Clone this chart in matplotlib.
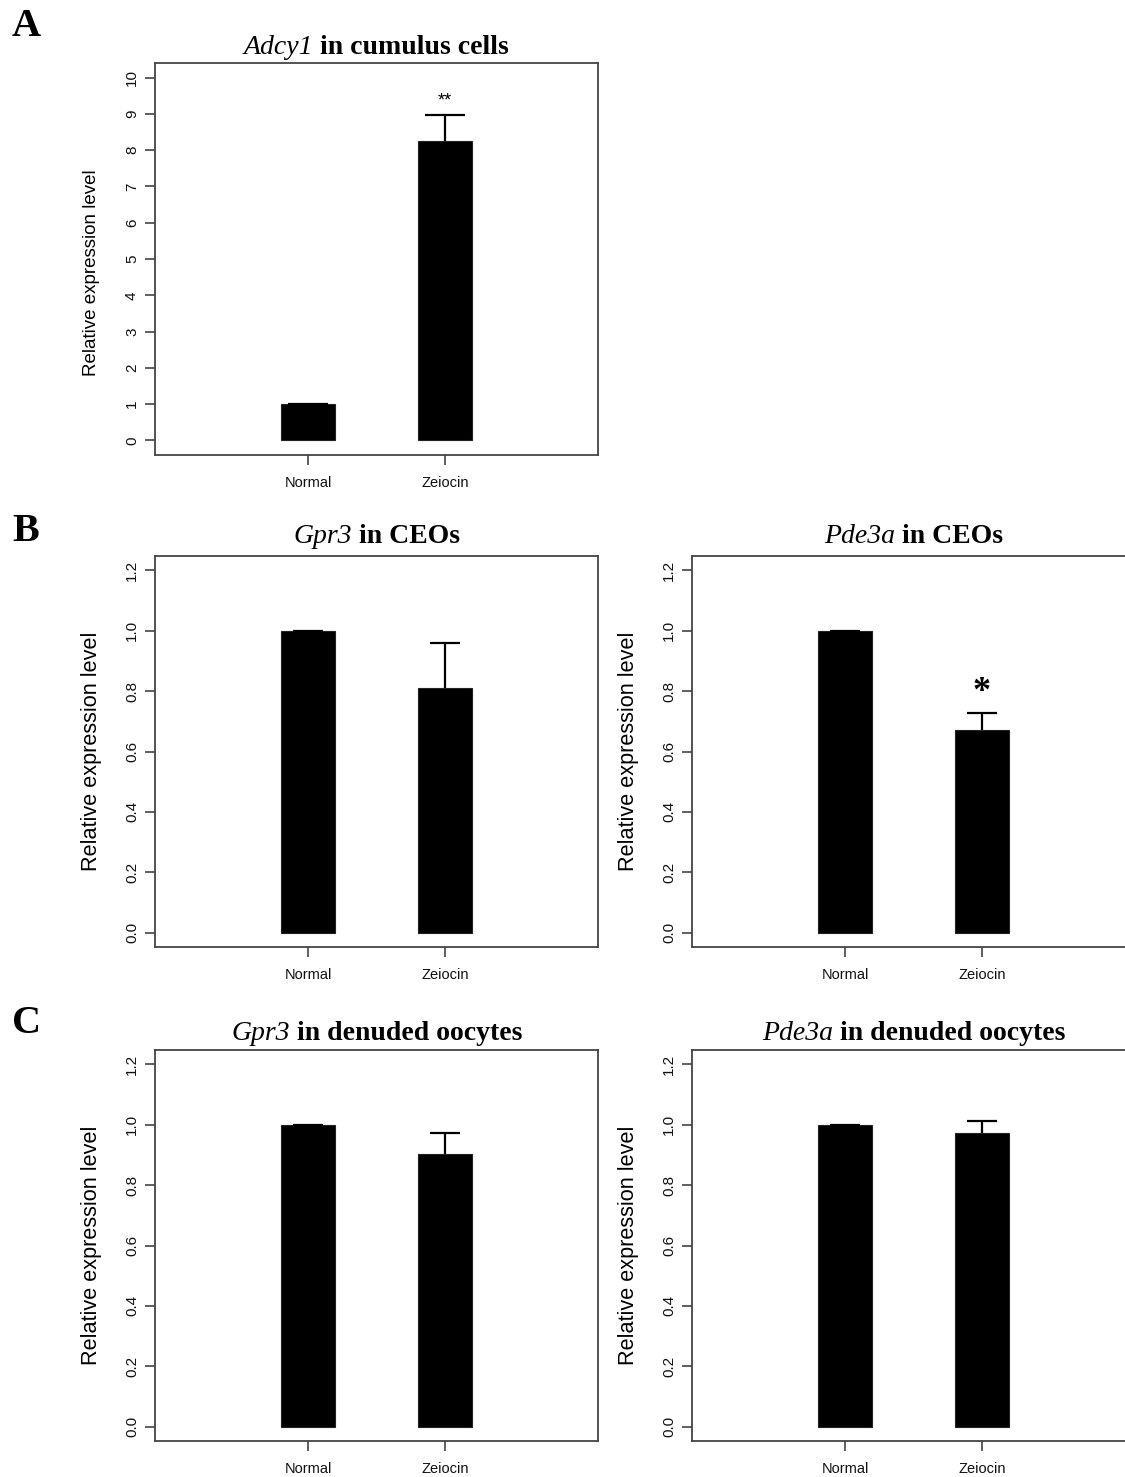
import numpy as np
import matplotlib
matplotlib.use("Agg")
import matplotlib.pyplot as plt

groups = ["Normal", "Zeiocin"]

adcy1_cc = [1.0, 8.25]
adcy1_cc_err = [0.0, 0.72]
gpr3_ceo = [1.0, 0.81]
gpr3_ceo_err = [0.0, 0.15]
pde3a_ceo = [1.0, 0.672]
pde3a_ceo_err = [0.0, 0.056]
gpr3_do = [1.0, 0.903]
gpr3_do_err = [0.0, 0.07]
pde3a_do = [1.0, 0.973]
pde3a_do_err = [0.0, 0.04]

W, H = 1125, 1477
fig = plt.figure(figsize=(W / 100, H / 100), dpi=100)

gray = "#444444"
serif = "Liberation Serif"
sans = "Liberation Sans"


def ax_at(x0, y0, x1, y1):
    # pixel box -> figure fraction
    return fig.add_axes([x0 / W, (H - y1) / H, (x1 - x0) / W, (y1 - y0) / H])


def title2(ax, gene, rest, ypix):
    r = fig.canvas.get_renderer()
    t1 = fig.text(0, 0, gene, family=serif, style="italic", fontsize=20)
    t2 = fig.text(0, 0, " " + rest, family=serif, weight="bold", fontsize=20)
    w1 = t1.get_window_extent(r).width
    w2 = t2.get_window_extent(r).width
    bb = ax.get_window_extent(r)
    cx = (bb.x0 + bb.x1) / 2
    x0 = cx - (w1 + w2) / 2
    yf = (H - ypix) / H
    t1.set_position((x0 / W, yf))
    t2.set_position(((x0 + w1) / W, yf))
    t1.set_va("baseline")
    t2.set_va("baseline")


def panel(box, vals, errs, ylim, ticks, fmt, cap, labsize=15.6, laby=0.5, labx=-53):
    ax = ax_at(*box)
    x = np.arange(1, len(vals) + 1)
    ax.bar(x, vals, width=0.4, color="black", edgecolor="#222222", linewidth=0.8, zorder=2)
    _, caps, _ = ax.errorbar(x, vals, yerr=[np.zeros(len(errs)), errs], fmt="none",
                             ecolor="black", elinewidth=1.6, capsize=cap, capthick=1.6, zorder=3)
    caps[0].remove()  # only the upper whisker, as in the original
    ax.set_xlim(-0.117, 3.117)
    ax.set_ylim(*ylim)
    ax.set_xticks(x)
    ax.set_xticklabels(groups, family=sans, fontsize=10.5, color="#111111")
    ax.set_yticks(ticks)
    ax.set_yticklabels([fmt.format(t) for t in ticks], family=sans, fontsize=11,
                       rotation=90, va="center", color="#111111")
    ax.tick_params(axis="both", length=7, width=1.2, color=gray)
    ax.tick_params(axis="x", pad=8)
    ax.tick_params(axis="y", pad=4.5)
    for s in ax.spines.values():
        s.set_color(gray)
        s.set_linewidth(1.3)
    ax.set_ylabel("Relative expression level", family=sans, fontsize=labsize)
    ax.yaxis.set_label_coords(labx / (box[2] - box[0]), laby)
    return ax


axA = panel((155, 63, 598, 455), adcy1_cc, adcy1_cc_err, (-0.4, 10.4), list(range(11)), "{:d}",
            14.5, labsize=13.5, laby=0.464, labx=-55)
axA.text(2, 9.35, "**", ha="center", va="center", family=sans, fontsize=13)
title2(axA, "Adcy1", "in cumulus cells", 54)

yl = (-0.048, 1.248)
tk = [0.0, 0.2, 0.4, 0.6, 0.8, 1.0, 1.2]
axB1 = panel((155, 556, 598, 947), gpr3_ceo, gpr3_ceo_err, yl, tk, "{:.1f}", 10.5)
title2(axB1, "Gpr3", "in CEOs", 543)
axB2 = panel((692, 556, 1135, 947), pde3a_ceo, pde3a_ceo_err, yl, tk, "{:.1f}", 10.5)
axB2.text(2, 0.795, "*", ha="center", va="center", family=serif, weight="bold", fontsize=26)
title2(axB2, "Pde3a", "in CEOs", 543)

axC1 = panel((155, 1050, 598, 1441), gpr3_do, gpr3_do_err, yl, tk, "{:.1f}", 10.5)
title2(axC1, "Gpr3", "in denuded oocytes", 1040)
axC2 = panel((692, 1050, 1135, 1441), pde3a_do, pde3a_do_err, yl, tk, "{:.1f}", 10.5)
title2(axC2, "Pde3a", "in denuded oocytes", 1040)

for lab, yp in [("A", 36), ("B", 541), ("C", 1033)]:
    fig.text(12 / W, (H - yp) / H, lab, family=serif, weight="bold", fontsize=29, va="baseline")

fig.savefig("out.png", dpi=100)
